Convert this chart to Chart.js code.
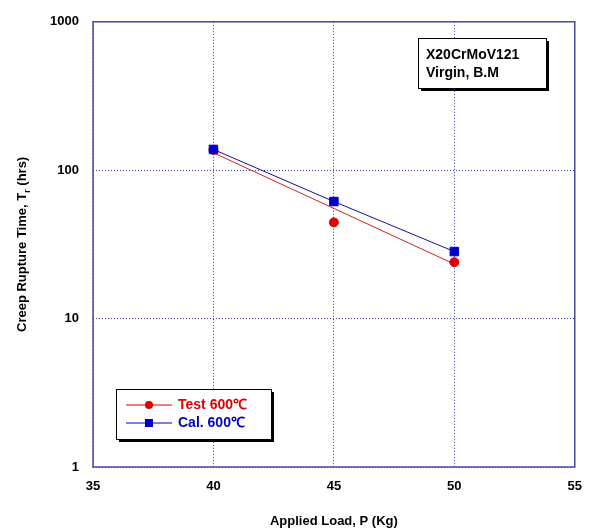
<!DOCTYPE html>
<html lang="en">
<head>
<meta charset="UTF-8">
<title>Creep Rupture Time</title>
<script src="https://cdn.jsdelivr.net/npm/chart.js"></script>
<style>
  body { margin: 0; background: #fff; }
  canvas { display: block; }
</style>
</head>
<body>
<canvas id="myChart" width="594" height="532"></canvas>
<script>
// data
const loads = [40, 45, 50];
const testTimes = [137, 44.5, 24];
const calTimes = [138, 61.5, 28.3];
const fitLoads = [40, 50];
const fitTimes = [131, 23.3];
const xTicks = [35, 40, 45, 50, 55];
const yTicks = [1, 10, 100, 1000];

const RED = '#e00000';
const BLUE = '#0000c8';
const FONT = '"Liberation Sans", Arial, sans-serif';

const pts = (xs, ys) => xs.map((x, i) => ({ x: x, y: ys[i] }));

// frame, titles, legend and the note box
const extras = {
  id: 'extras',
  afterDraw(chart) {
    const ctx = chart.ctx;
    const a = chart.chartArea;
    ctx.save();
    ctx.strokeStyle = '#4848a8';
    ctx.lineWidth = 1.5;
    ctx.strokeRect(a.left, a.top, a.right - a.left, a.bottom - a.top);

    // x title
    ctx.fillStyle = '#000';
    ctx.font = 'bold 13px ' + FONT;
    ctx.textAlign = 'center';
    ctx.textBaseline = 'middle';
    ctx.fillText('Applied Load, P (Kg)', (a.left + a.right) / 2, 521);

    // y title with subscript
    ctx.save();
    ctx.translate(22, (a.top + a.bottom) / 2);
    ctx.rotate(-Math.PI / 2);
    const p1 = 'Creep Rupture Time, T';
    const p2 = ' (hrs)';
    ctx.font = 'bold 13px ' + FONT;
    const w1 = ctx.measureText(p1).width;
    const w2 = ctx.measureText(p2).width;
    ctx.font = 'bold 9px ' + FONT;
    const ws = ctx.measureText('r').width;
    const total = w1 + ws + w2;
    let x0 = -total / 2;
    ctx.textAlign = 'left';
    ctx.font = 'bold 13px ' + FONT;
    ctx.fillText(p1, x0, 0);
    ctx.font = 'bold 9px ' + FONT;
    ctx.fillText('r', x0 + w1, 6);
    ctx.font = 'bold 13px ' + FONT;
    ctx.fillText(p2, x0 + w1 + ws, 0);
    ctx.restore();

    // shadowed boxes
    const box = (x, y, w, h) => {
      ctx.fillStyle = '#000';
      ctx.fillRect(x + 3, y + 3, w, h);
      ctx.fillStyle = '#fff';
      ctx.fillRect(x, y, w, h);
      ctx.strokeStyle = '#000';
      ctx.lineWidth = 1;
      ctx.strokeRect(x + 0.5, y + 0.5, w, h);
    };

    box(418, 38, 128, 50);
    ctx.fillStyle = '#000';
    ctx.font = 'bold 14px ' + FONT;
    ctx.textAlign = 'left';
    ctx.fillText('X20CrMoV121', 426, 55);
    ctx.fillText('Virgin, B.M', 426, 73);

    box(116, 389, 155, 50);
    const item = (y, color, label, square) => {
      ctx.strokeStyle = color;
      ctx.lineWidth = 1;
      ctx.beginPath();
      ctx.moveTo(126, y);
      ctx.lineTo(172, y);
      ctx.stroke();
      ctx.fillStyle = color;
      if (square) {
        ctx.fillRect(145, y - 4, 8, 8);
      } else {
        ctx.beginPath();
        ctx.arc(149, y, 4, 0, Math.PI * 2);
        ctx.fill();
      }
      ctx.font = 'bold 14px ' + FONT;
      ctx.textBaseline = 'middle';
      ctx.fillText(label, 178, y);
    };
    item(405, RED, 'Test 600\u2103', false);
    item(423, BLUE, 'Cal. 600\u2103', true);
    ctx.restore();
  }
};

new Chart(document.getElementById('myChart'), {
  type: 'scatter',
  data: {
    datasets: [
      {
        label: 'Cal. 600\u2103',
        data: pts(loads, calTimes),
        showLine: true,
        borderColor: '#1010a0',
        borderWidth: 1,
        backgroundColor: BLUE,
        pointBorderColor: BLUE,
        pointStyle: 'rect',
        pointRadius: 6
      },
      {
        label: 'Test 600\u2103',
        data: pts(loads, testTimes),
        showLine: false,
        backgroundColor: RED,
        borderColor: RED,
        pointStyle: 'circle',
        pointRadius: 4.5
      },
      {
        label: 'Test fit',
        data: pts(fitLoads, fitTimes),
        showLine: true,
        borderColor: '#d02020',
        borderWidth: 1,
        pointRadius: 0
      }
    ]
  },
  options: {
    responsive: false,
    animation: false,
    layout: { padding: { top: 17, right: 18, left: 0, bottom: 0 } },
    plugins: {
      legend: { display: false },
      tooltip: { enabled: false }
    },
    scales: {
      x: {
        type: 'linear',
        min: 35,
        max: 55,
        afterBuildTicks: s => { s.ticks = xTicks.map(v => ({ value: v })); },
        afterFit: s => { s.height = 65; },
        ticks: {
          padding: 12,
          color: '#000',
          font: { family: FONT, size: 13, weight: 'bold' }
        },
        grid: {
          drawTicks: false,
          color: '#3030c0',
          lineWidth: 1
        },
        border: { display: false, dash: [1, 2] }
      },
      y: {
        type: 'logarithmic',
        min: 1,
        max: 1000,
        afterBuildTicks: s => { s.ticks = yTicks.map(v => ({ value: v })); },
        afterFit: s => { s.width = 93; },
        ticks: {
          padding: 14,
          color: '#000',
          font: { family: FONT, size: 13, weight: 'bold' },
          callback: v => String(v)
        },
        grid: {
          drawTicks: false,
          color: '#3030c0',
          lineWidth: 1
        },
        border: { display: false, dash: [1, 2] }
      }
    }
  },
  plugins: [extras]
});
</script>
</body>
</html>
